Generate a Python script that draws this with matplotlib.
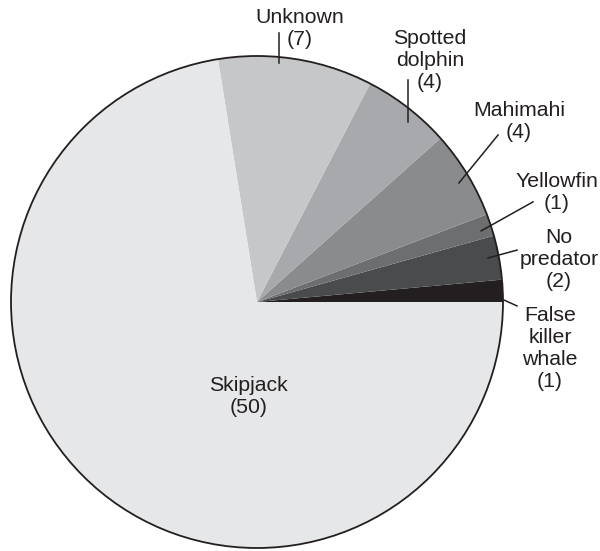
import matplotlib
matplotlib.use("Agg")
import matplotlib.pyplot as plt
from matplotlib.patches import Circle

categories = ["False\nkiller\nwhale", "No\npredator", "Yellowfin", "Mahimahi",
              "Spotted\ndolphin", "Unknown", "Skipjack"]
counts = [1, 2, 1, 4, 4, 7, 50]
colors = ["#231f20", "#4a4b4d", "#6d6e70", "#8a8b8d", "#a7a9ac", "#c6c7c8", "#e6e7e8"]

# label layout (data units, pie radius = 1): text centre, leader inner, leader outer
label_pos = [(1.191, -0.187), (1.228, 0.171), (1.220, 0.447), (1.065, 0.732),
             (0.703, 0.980), (0.175, 1.110), (-0.033, -0.386)]
leaders = [((1.004, 0.008), (1.057, -0.016)),
           ((0.939, 0.179), (1.057, 0.211)),
           ((0.911, 0.289), (1.122, 0.407)),
           ((0.821, 0.484), (0.980, 0.679)),
           ((0.614, 0.732), (0.614, 0.902)),
           ((0.089, 0.972), (0.089, 1.094)),
           None]

plt.rcParams['font.family'] = ['Liberation Sans', 'DejaVu Sans']

fig = plt.figure(figsize=(6.0, 5.51), dpi=100)
ax = fig.add_axes([0, 0, 1, 1])
ax.pie(counts, colors=colors, startangle=0, counterclock=True, radius=1,
       wedgeprops=dict(linewidth=0))
ax.add_patch(Circle((0, 0), 1, fill=False, edgecolor="#231f20", linewidth=1.3, zorder=3))

for cat, n, (tx, ty), ld in zip(categories, counts, label_pos, leaders):
    ax.text(tx, ty, f"{cat}\n({n})", ha="center", va="center", fontsize=15.3,
            color="#231f20", linespacing=1.2, multialignment="center")
    if ld is not None:
        (x0, y0), (x1, y1) = ld
        ax.plot([x0, x1], [y0, y1], color="#231f20", linewidth=1.1, zorder=4)

ax.set_xlim(-257 / 246, 343 / 246)
ax.set_ylim(-249 / 246, 302 / 246)
ax.set_aspect("auto")
ax.axis("off")
fig.savefig("out.png", dpi=100, facecolor="white")
